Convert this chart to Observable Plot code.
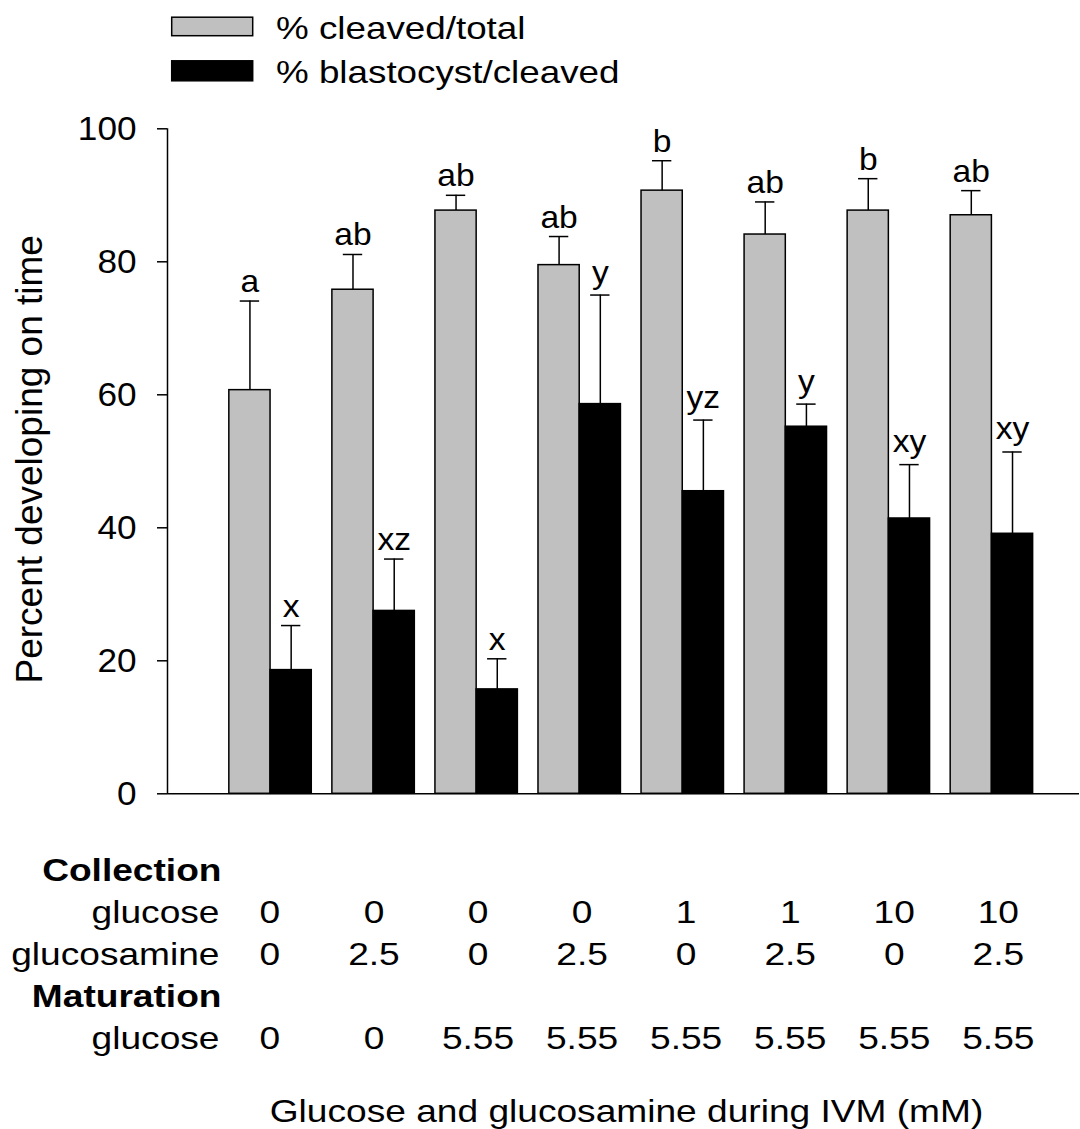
<!DOCTYPE html>
<html><head><meta charset="utf-8">
<script src="https://cdn.jsdelivr.net/npm/d3@7"></script>
<script src="https://cdn.jsdelivr.net/npm/@observablehq/plot@0.6"></script>
<style>
body{margin:0;background:#fff;}
#wrap{position:relative;width:1080px;height:1129px;font-family:"Liberation Sans",Arial,sans-serif;background:#fff;}
#wrap svg{display:block;}
#legend{position:absolute;left:0;top:0;}
</style></head><body><div id="wrap"></div>
<script>
// ---- data ----
const cleaved   = [60.7, 75.8, 87.7, 79.5, 90.7, 84.1, 87.7, 87.0];
const cleavedSE = [13.4, 5.3, 2.3, 4.3, 4.5, 4.9, 4.8, 3.7];
const blast     = [18.6, 27.5, 15.7, 58.6, 45.5, 55.2, 41.4, 39.1];
const blastSE   = [6.7, 7.8, 4.6, 16.4, 10.7, 3.4, 8.1, 12.3];
const cleavedLetters = ["a","ab","ab","ab","b","ab","b","ab"];
const blastLetters   = ["x","xz","x","y","yz","y","xy","xy"];
const seriesNames  = ["% cleaved/total","% blastocyst/cleaved"];
const seriesColors = ["#c0c0c0","#000000"];
const collGlucose     = ["0","0","0","0","1","1","10","10"];
const collGlucosamine = ["0","2.5","0","2.5","0","2.5","0","2.5"];
const matGlucose      = ["0","0","5.55","5.55","5.55","5.55","5.55","5.55"];
const rowLabels = ["Collection","glucose","glucosamine","Maturation","glucose"];
const rowBold   = [true,false,false,true,false];
const yTicks = [0,20,40,60,80,100];
const yLabel = "Percent developing on time";
const xLabel = "Glucose and glucosamine during IVM (mM)";

const FONT = '"Liberation Sans", Arial, sans-serif';
const wrap = document.getElementById("wrap");

// ---- derived table ----
const bars = [];
cleaved.forEach((v,i)=>bars.push({i, s:0, v, se:cleavedSE[i], lab:cleavedLetters[i]}));
blast.forEach((v,i)=>bars.push({i, s:1, v, se:blastSE[i], lab:blastLetters[i]}));
const BW = 0.4, CAP = 0.094;
const bx1 = d => d.i - BW + d.s*BW;
const bx2 = d => d.i + d.s*BW;
const bxm = d => d.i - BW/2 + d.s*BW;
const errTop = d => d.v + d.se;
const hasDesc = d => /[gjpqy]/.test(d.lab);
const xDomain = [-1, 7.85];

// stretch text horizontally about its own anchor point
function stretch(root, selector, k){
  root.querySelectorAll(selector).forEach(t=>{
    const tr = t.getAttribute("transform")||"";
    t.setAttribute("transform", `${tr} scale(${k},1)`);
  });
}

const chart = Plot.plot({
  width:1080, height:840,
  marginLeft:167, marginRight:1, marginTop:128.3, marginBottom:46.7,
  style:{fontFamily:FONT, fontSize:"33.5px", color:"black", background:"white", overflow:"visible"},
  x:{domain:xDomain, axis:null},
  y:{domain:[0,100], axis:null},
  color:{type:"identity"},
  marks:[
    Plot.rectY(bars, {x1:bx1, x2:bx2, y1:0, y2:"v", fill:d=>seriesColors[d.s], stroke:"black", strokeWidth:1.5}),
    Plot.ruleX(bars, {x:bxm, y1:"v", y2:errTop, stroke:"black", strokeWidth:1.5}),
    Plot.ruleY(bars, {y:errTop, x1:d=>bxm(d)-CAP, x2:d=>bxm(d)+CAP, stroke:"black", strokeWidth:1.5}),
    Plot.text(bars, {filter:d=>!hasDesc(d), x:bxm, y:errTop, text:"lab", lineAnchor:"bottom", dy:-9, fontSize:32, fill:"black", className:"lett"}),
    Plot.text(bars, {filter:hasDesc, x:bxm, y:errTop, text:"lab", lineAnchor:"bottom", dy:-12.5, fontSize:32, fill:"black", className:"lett"}),
    Plot.ruleY([0], {stroke:"black", strokeWidth:1.5}),
    Plot.ruleX([xDomain[0]], {y1:0, y2:100, stroke:"black", strokeWidth:1.5}),
    Plot.axisY({ticks:yTicks, tickSize:10, tickPadding:21, fontSize:33.5, strokeWidth:1.5, label:null}),
    Plot.text([yLabel], {frameAnchor:"left", rotate:-90, dx:-125.3, dy:-2, textAnchor:"middle", lineAnchor:"bottom", fontSize:37, fill:"black"})
  ]
});
stretch(chart, ".lett text", 1.05);
stretch(chart, "[aria-label='y-axis tick label'] text", 1.05);
wrap.appendChild(chart);

// ---- legend ----
const leg = d3.select(wrap).append("svg").attr("id","legend").attr("width",700).attr("height",100);
const lg = leg.selectAll("g").data(seriesNames).join("g");
lg.append("rect").attr("x",171.7).attr("y",(d,i)=>i?60.8:17.2).attr("width",81).attr("height",(d,i)=>i?20:18.5)
  .attr("fill",(d,i)=>seriesColors[i]).attr("stroke","black").attr("stroke-width",1.5);
lg.append("text").attr("x",276).attr("y",(d,i)=>i?83.5:39.5).text(d=>d)
  .attr("font-family",FONT).attr("font-size",32).attr("fill","black")
  .attr("transform","translate(276,0) scale(1.15,1) translate(-276,0)");

// ---- table ----
const rows = rowLabels.map((label,k)=>({key:"r"+k, label, bold:rowBold[k]}));
const rowValues = [null, collGlucose, collGlucosamine, null, matGlucose];
const cells = rows.flatMap((r,k)=> rowValues[k] ? rowValues[k].map((v,i)=>({row:r.key, i, v})) : []);
const table = Plot.plot({
  width:1080, height:289,
  marginLeft:167, marginRight:1, marginTop:0, marginBottom:17.3,
  style:{fontFamily:FONT, fontSize:"32px", color:"black", background:"white", overflow:"visible"},
  x:{domain:[0,7], range:[269.4,997.8], axis:null},
  y:{type:"point", domain:rows.map(r=>r.key), range:[29,199.5], padding:0, axis:null},
  marks:[
    Plot.text(cells, {x:"i", y:"row", text:"v", fontSize:32, lineAnchor:"middle", fill:"black", className:"tt"}),
    Plot.text(rows, {filter:d=>!d.bold, y:"key", text:"label", frameAnchor:"left", textAnchor:"end", lineAnchor:"middle", dx:52, fontSize:32, fill:"black", className:"tt"}),
    Plot.text(rows, {filter:d=>d.bold, y:"key", text:"label", frameAnchor:"left", textAnchor:"end", lineAnchor:"middle", dx:54, fontSize:32, fontWeight:"bold", fill:"black", className:"tt"}),
    Plot.text([xLabel], {frameAnchor:"bottom", dx:3, fontSize:32, lineAnchor:"middle", textAnchor:"middle", fill:"black", className:"tt"})
  ]
});
stretch(table, ".tt text", 1.16);
wrap.appendChild(table);
</script>
</body></html>
